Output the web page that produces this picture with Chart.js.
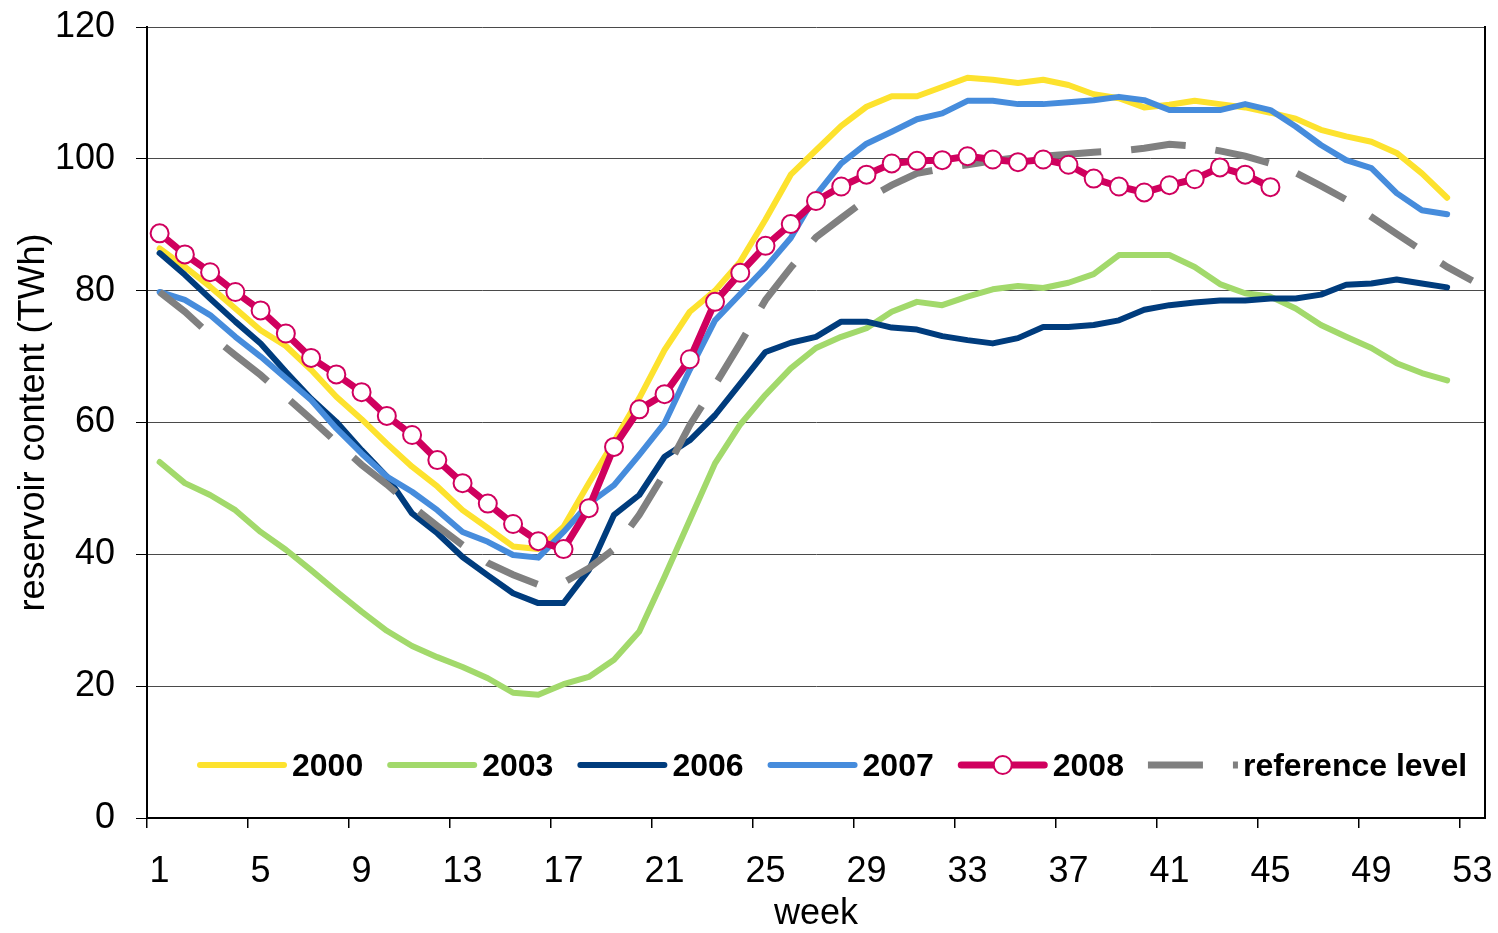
<!DOCTYPE html>
<html>
<head>
<meta charset="utf-8">
<title>Reservoir content</title>
<script src="https://cdn.jsdelivr.net/npm/chart.js@4.4.1/dist/chart.umd.min.js"></script>
<style>
  html, body { margin: 0; padding: 0; background: #fff; }
  canvas { display: block; }
</style>
</head>
<body>
<canvas id="chart" width="1498" height="933"></canvas>
<script>
// weeks on the x axis
var weeks = ['1', '2', '3', '4', '5', '6', '7', '8', '9', '10',
  '11', '12', '13', '14', '15', '16', '17', '18', '19', '20',
  '21', '22', '23', '24', '25', '26', '27', '28', '29', '30',
  '31', '32', '33', '34', '35', '36', '37', '38', '39', '40',
  '41', '42', '43', '44', '45', '46', '47', '48', '49', '50',
  '51', '52', '53'];
var xTickLabels = ['1', '5', '9', '13', '17', '21', '25', '29', '33', '37', '41', '45', '49', '53'];
var yTicks = [0, 20, 40, 60, 80, 100, 120];

// reservoir content, TWh
var y2000 = [86.4, 83.6, 80.6, 77.3, 74.0, 71.6, 68.0, 63.9, 60.5, 56.8,
  53.3, 50.3, 46.7, 44.0, 41.2, 40.8, 44.2, 50.8, 57.1, 63.7,
  71.0, 76.8, 80.0, 84.4, 90.8, 97.6, 101.3, 105.0, 107.9, 109.5,
  109.5, 110.9, 112.3, 112.0, 111.5, 112.0, 111.2, 109.8, 109.2, 107.8,
  108.2, 108.8, 108.3, 107.8, 107.0, 106.1, 104.4, 103.4, 102.6, 100.9,
  97.8, 94.1];
var y2003 = [54.0, 50.8, 49.0, 46.7, 43.4, 40.7, 37.6, 34.4, 31.3, 28.4,
  26.1, 24.4, 22.9, 21.2, 19.0, 18.7, 20.3, 21.4, 24.0, 28.3,
  36.6, 45.2, 53.8, 59.7, 64.2, 68.2, 71.3, 73.0, 74.3, 76.8,
  78.3, 77.8, 79.1, 80.2, 80.7, 80.4, 81.2, 82.5, 85.4, 85.4,
  85.4, 83.6, 81.0, 79.6, 79.1, 77.3, 74.8, 73.0, 71.3, 69.0,
  67.5, 66.4];
var y2006 = [85.7, 82.4, 78.8, 75.3, 72.0, 67.7, 63.6, 60.1, 55.8, 51.8,
  46.2, 43.2, 39.6, 36.8, 34.1, 32.6, 32.6, 37.6, 46.0, 49.0,
  54.8, 57.3, 61.1, 65.9, 70.7, 72.1, 73.0, 75.3, 75.3, 74.4,
  74.1, 73.1, 72.5, 72.0, 72.8, 74.5, 74.5, 74.8, 75.5, 77.1,
  77.8, 78.2, 78.5, 78.5, 78.8, 78.8, 79.4, 80.9, 81.1, 81.7,
  81.1, 80.5];
var y2007 = [79.8, 78.6, 76.3, 73.0, 70.0, 66.7, 63.4, 59.1, 55.3, 51.8,
  49.5, 46.7, 43.4, 41.9, 39.9, 39.5, 43.4, 47.7, 50.5, 55.1,
  59.9, 68.0, 75.5, 79.5, 83.5, 88.0, 94.5, 99.3, 102.3, 104.1,
  106.0, 106.9, 108.8, 108.8, 108.3, 108.3, 108.6, 108.9, 109.4, 108.9,
  107.4, 107.4, 107.4, 108.3, 107.4, 104.9, 102.1, 99.8, 98.6, 94.8,
  92.2, 91.6];
var y2008 = [88.7, 85.5, 82.8, 79.8, 77.0, 73.5, 69.8, 67.3, 64.6, 61.0,
  58.1, 54.3, 50.8, 47.7, 44.6, 42.0, 40.8, 47.0, 56.3, 62.0,
  64.3, 69.6, 78.3, 82.7, 86.8, 90.1, 93.6, 95.8, 97.6, 99.3,
  99.7, 99.8, 100.4, 99.9, 99.5, 99.9, 99.1, 97.0, 95.8, 94.9,
  96.0, 96.9, 98.7, 97.6, 95.7];
var yReference = [79.8, 76.8, 73.3, 70.2, 67.2, 63.9, 60.5, 57.0, 53.6, 50.6,
  47.3, 44.3, 41.4, 38.7, 36.9, 35.4, 35.7, 37.9, 40.8, 46.0,
  52.3, 59.6, 65.7, 72.0, 78.6, 83.5, 88.1, 91.0, 93.9, 96.0,
  97.8, 98.5, 99.1, 99.7, 100.2, 100.4, 100.7, 101.0, 101.2, 101.6,
  102.2, 101.9, 101.2, 100.4, 99.3, 97.9, 95.9, 93.8, 91.2, 88.6,
  86.1, 83.6, 81.5];

Chart.defaults.font.family = '"Liberation Sans", Arial, sans-serif';
Chart.defaults.color = '#000';

// legend drawn inside the plot area, along its bottom edge
var insideLegend = {
  id: 'insideLegend',
  afterDraw: function (chart, args, opts) {
    var ctx = chart.ctx;
    var area = chart.chartArea;
    var x = area.left + opts.left;
    var y = area.bottom - opts.bottom;
    ctx.save();
    ctx.font = opts.font;
    ctx.textBaseline = 'middle';
    ctx.textAlign = 'left';
    chart.data.datasets.forEach(function (ds) {
      var dashed = ds.borderDash && ds.borderDash.length;
      var inset = dashed ? 0 : ds.borderWidth / 2;
      ctx.save();
      ctx.strokeStyle = ds.borderColor;
      ctx.lineWidth = ds.borderWidth;
      ctx.lineCap = dashed ? 'butt' : 'round';
      ctx.setLineDash(dashed ? ds.borderDash : []);
      ctx.beginPath();
      ctx.moveTo(x + inset, y);
      ctx.lineTo(x + opts.sample - inset, y);
      ctx.stroke();
      if (ds.pointRadius > 0) {
        ctx.setLineDash([]);
        ctx.beginPath();
        ctx.arc(x + opts.sample / 2, y, ds.pointRadius, 0, Math.PI * 2);
        ctx.fillStyle = ds.pointBackgroundColor;
        ctx.fill();
        ctx.lineWidth = ds.pointBorderWidth;
        ctx.strokeStyle = ds.pointBorderColor;
        ctx.stroke();
      }
      ctx.restore();
      ctx.fillStyle = '#000';
      ctx.fillText(ds.label, x + opts.sample + opts.textGap, y + 2);
      x += opts.sample + opts.textGap + ctx.measureText(ds.label).width + opts.itemGap;
    });
    ctx.restore();
  }
};

function line(label, data, color, width, order) {
  return {
    label: label,
    data: data,
    borderColor: color,
    backgroundColor: color,
    borderWidth: width,
    borderCapStyle: 'round',
    borderJoinStyle: 'round',
    pointRadius: 0,
    fill: false,
    order: order
  };
}

var ds2008 = line('2008', y2008, '#d0005e', 7, 0);
ds2008.pointRadius = 9;
ds2008.pointBorderWidth = 2;
ds2008.pointBackgroundColor = '#ffffff';
ds2008.pointBorderColor = '#d0005e';

var dsRef = line('reference level', yReference, '#808080', 7, 1);
dsRef.borderDash = [55, 30];
dsRef.borderCapStyle = 'butt';
dsRef.borderJoinStyle = 'miter';

new Chart(document.getElementById('chart').getContext('2d'), {
  type: 'line',
  data: {
    labels: weeks,
    datasets: [
      line('2000', y2000, '#fde22e', 6, 5),
      line('2003', y2003, '#a2d96b', 6, 4),
      line('2006', y2006, '#003c7d', 6, 3),
      line('2007', y2007, '#468cdc', 6, 2),
      ds2008,
      dsRef
    ]
  },
  plugins: [insideLegend],
  options: {
    responsive: false,
    animation: false,
    events: [],
    layout: { padding: { top: 27, right: 13, bottom: 0, left: 0 } },
    elements: { line: { tension: 0 } },
    plugins: {
      legend: { display: false },
      tooltip: { enabled: false },
      insideLegend: {
        left: 50,
        bottom: 53,
        sample: 90,
        textGap: 5,
        itemGap: 24,
        font: 'bold 32px "Liberation Sans", Arial, sans-serif'
      }
    },
    scales: {
      x: {
        type: 'category',
        offset: true,
        grid: {
          offset: true,
          drawOnChartArea: false,
          tickLength: 10,
          lineWidth: 1.5,
          color: function (c) { return c.index % 4 === 0 ? '#000' : 'rgba(0,0,0,0)'; }
        },
        border: { display: true, color: '#000', width: 2 },
        ticks: {
          autoSkip: false,
          maxRotation: 0,
          padding: 22,
          font: { size: 36 },
          color: '#000',
          callback: function (value) {
            var l = this.getLabelForValue(value);
            return xTickLabels.indexOf(l) >= 0 ? l : '';
          }
        },
        title: { display: true, text: 'week', font: { size: 36 }, color: '#000', padding: { top: 0, bottom: -3 } },
        afterFit: function (scale) {
          scale.height = 115;
          scale.paddingLeft = 0;
          scale.paddingRight = 0;
        }
      },
      y: {
        min: 0,
        max: 120,
        afterBuildTicks: function (scale) {
          scale.ticks = yTicks.map(function (v) { return { value: v }; });
        },
        grid: { color: '#4a4a4a', lineWidth: 1, tickLength: 11, tickColor: '#000' },
        border: { display: true, color: '#000', width: 2 },
        ticks: { padding: 21, font: { size: 36 }, color: '#000' },
        title: {
          display: true,
          text: 'reservoir content (TWh)',
          font: { size: 36 },
          color: '#000',
          padding: { top: 12, bottom: 0 }
        },
        afterFit: function (scale) {
          scale.width = 147;
          scale.paddingTop = 0;
          scale.paddingBottom = 0;
        }
      },
      yRight: {
        type: 'linear',
        position: 'right',
        display: true,
        grid: { display: true, drawOnChartArea: false, drawTicks: false },
        ticks: { display: false },
        border: { display: true, color: '#000', width: 2 },
        afterFit: function (scale) {
          scale.width = 0;
          scale.paddingTop = 0;
          scale.paddingBottom = 0;
        }
      }
    }
  }
});
</script>
</body>
</html>
